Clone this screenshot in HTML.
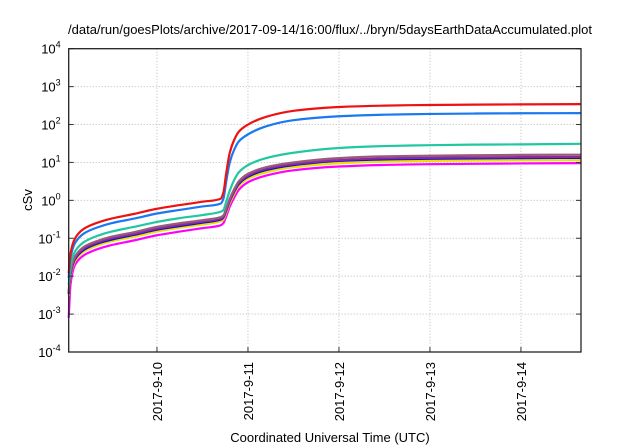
<!DOCTYPE html>
<html><head><meta charset="utf-8"><style>
body{margin:0;background:#fff;}
svg{display:block;font-family:"Liberation Sans",sans-serif;}
</style></head><body>
<svg id="chart" width="640" height="448">
<text x="330" y="34" text-anchor="middle" font-size="13">/data/run/goesPlots/archive/2017-09-14/16:00/flux/../bryn/5daysEarthDataAccumulated.plot</text>
<text transform="translate(32,200) rotate(-90)" text-anchor="middle" font-size="13">cSv</text>
<text x="330" y="442" text-anchor="middle" font-size="13">Coordinated Universal Time (UTC)</text>
<g id="grid"></g><g id="series"></g><g id="axes"></g>
</svg>
<script>
const times=[0.03,0.05,0.1,0.2,0.35,0.5,0.75,1.0,1.25,1.5,1.7,1.73,1.76,1.8,1.85,1.9,2.0,2.2,2.5,3.0,3.5,4.0,4.5,5.0,5.66];
const red=[0.012,0.04,0.1,0.18,0.26,0.33,0.44,0.6,0.75,0.92,1.1,1.6,5,18,40,65,100,160,230,290,315,328,335,340,345];
const blue=[0.009,0.03,0.075,0.135,0.195,0.25,0.33,0.45,0.56,0.69,0.82,1.1,3,10,22,36,55,90,130,165,182,190,195,198,200];
const teal=[0.006,0.018,0.045,0.08,0.117,0.15,0.2,0.27,0.34,0.41,0.5,0.55,0.9,1.8,3.5,5.5,8.5,13,18,24,27,28.5,29.5,30,31];
const mauve=[0.004,0.013,0.033,0.06,0.086,0.11,0.145,0.2,0.25,0.3,0.36,0.4,0.6,1.1,2.0,3.2,5,7.5,10,13,14.5,15,15.5,15.8,16];
const purple=[0.0036,0.012,0.03,0.054,0.078,0.1,0.13,0.18,0.225,0.275,0.33,0.37,0.55,1.0,1.8,2.9,4.5,6.8,9,11.5,12.8,13.3,13.6,13.8,14];
const darkBlue=[0.0034,0.011,0.028,0.05,0.073,0.092,0.123,0.168,0.21,0.258,0.31,0.35,0.52,0.95,1.7,2.7,4.2,6.3,8.5,11,12,12.5,12.8,13,13.2];
const yellow=[0.003,0.01,0.025,0.045,0.065,0.083,0.11,0.15,0.19,0.23,0.28,0.31,0.46,0.85,1.5,2.4,3.7,5.5,7.5,9.5,10.5,11,11.2,11.4,11.5];
const magenta=[0.0008,0.006,0.02,0.036,0.052,0.066,0.088,0.12,0.15,0.185,0.22,0.25,0.37,0.68,1.2,1.9,3,4.5,6.2,7.8,8.6,9,9.2,9.4,9.6];
const xTickDays=[1,2,3,4,5];
const xTickLabels=["2017-9-10","2017-9-11","2017-9-12","2017-9-13","2017-9-14"];
const yTickExps=[-4,-3,-2,-1,0,1,2,3,4];

const L=68.7,R=581,T=48.7,B=352,x0=0.03,x1=5.66;
function X(d){return L+(d-x0)/(x1-x0)*(R-L);}
function Y(v){return B-(Math.log10(v)+4)/8*(B-T);}
const NS="http://www.w3.org/2000/svg";
function mk(tag,parent,attrs){const e=document.createElementNS(NS,tag);for(const k in attrs)e.setAttribute(k,attrs[k]);parent.appendChild(e);return e;}
// monotone cubic path through screen points
function monoPath(px,py){
  const n=px.length,dx=[],m=[],t=[];
  for(let i=0;i<n-1;i++){dx[i]=px[i+1]-px[i];m[i]=(py[i+1]-py[i])/dx[i];}
  t[0]=m[0];t[n-1]=m[n-2];
  for(let i=1;i<n-1;i++){t[i]=(m[i-1]*m[i]<=0)?0:3*(dx[i-1]+dx[i])/((2*dx[i]+dx[i-1])/m[i-1]+(dx[i]+2*dx[i-1])/m[i]);}
  let d='M'+px[0].toFixed(2)+','+py[0].toFixed(2);
  for(let i=0;i<n-1;i++){const h=dx[i]/3;
    d+='C'+(px[i]+h).toFixed(2)+','+(py[i]+t[i]*h).toFixed(2)+' '+(px[i+1]-h).toFixed(2)+','+(py[i+1]-t[i+1]*h).toFixed(2)+' '+px[i+1].toFixed(2)+','+py[i+1].toFixed(2);}
  return d;
}
const grid=document.getElementById('grid'),axes=document.getElementById('axes'),ser=document.getElementById('series');
yTickExps.forEach(p=>{
  const y=Y(Math.pow(10,p));
  if(p>-4&&p<4){const g=mk('line',grid,{x1:L,x2:R,y1:y,y2:y,stroke:'#bbb','stroke-dasharray':'1,2','stroke-width':1});
  
  }
  const tk=mk('line',axes,{x1:L,x2:L+5,y1:y,y2:y,stroke:'#333'});
  
  
  const tk2=mk('line',axes,{x1:R-5,x2:R,y1:y,y2:y,stroke:'#333'});
  
  
  const t=mk('text',axes,{x:L-8,y:y+5,'text-anchor':'end','font-size':13});
  
  
  t.textContent='10';
  const s=mk('tspan',t,{dy:-6,'font-size':9});s.textContent=String(p);
});
xTickDays.forEach((d,i)=>{
  const x=X(d);
  const g=mk('line',grid,{x1:x,x2:x,y1:T,y2:B,stroke:'#bbb','stroke-dasharray':'1,2'});
  
  
  const tk=mk('line',axes,{x1:x,x2:x,y1:B-5,y2:B,stroke:'#333'});
  
  
  const t=mk('text',axes,{transform:`translate(${x+5},${B+10}) rotate(-90)`,'text-anchor':'end','font-size':13});
  
  
  t.textContent=xTickLabels[i];
});
const fr=mk('rect',axes,{x:L,y:T,width:R-L,height:B-T,fill:'none',stroke:'#222','stroke-width':1.3});


const list=[[magenta,'#ff00ff','magenta'],[yellow,'#f0e000','yellow'],[darkBlue,'#1010d0','dark-blue'],[purple,'#8a2aa0','purple'],[mauve,'#9a5a7a','mauve'],[teal,'#20c8a0','teal'],[blue,'#1a78f0','blue'],[red,'#ee1111','red']];
list.forEach(([vals,c,n])=>{
  const d=monoPath(times.map(X),vals.map(Y));
  const p=mk('path',ser,{d:d,fill:'none',stroke:c,'stroke-width':2.2,'stroke-linejoin':'round'});
  
  
});
</script>
</body></html>
